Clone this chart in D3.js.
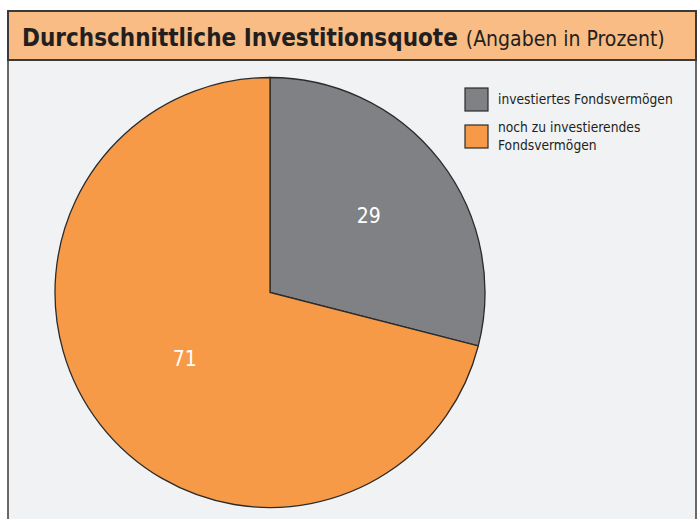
<!DOCTYPE html>
<html><head><meta charset="utf-8">
<script src="https://cdn.jsdelivr.net/npm/d3@7"></script>
<style>
html,body{margin:0;padding:0;background:#fff;}
svg{display:block;}
</style></head>
<body>
<script>
const categories = ["investiertes Fondsvermögen", "noch zu investierendes Fondsvermögen"];
const values = [29, 71];
const legendLines = [["investiertes Fondsvermögen"], ["noch zu investierendes", "Fondsvermögen"]];
const colors = ["#808184", "#F79A48"];
const titleMain = "Durchschnittliche Investitionsquote";
const titleSub = "(Angaben in Prozent)";

const W = 699, H = 519;
const svg = d3.select("body").append("svg").attr("width", W).attr("height", H);

// panel
svg.append("rect").attr("x", 8).attr("y", 59).attr("width", 688).attr("height", 480)
  .attr("fill", "#F1F2F4").attr("stroke", "#3a3a3a").attr("stroke-width", 1.5);
// header
svg.append("rect").attr("x", 8).attr("y", 11).attr("width", 688).attr("height", 49)
  .attr("fill", "#F9BC84").attr("stroke", "#3a3a3a").attr("stroke-width", 2);

const ff = "'DejaVu Sans Condensed', 'Liberation Sans Narrow', sans-serif";
const tt = svg.append("text").attr("x", 22).attr("y", 46)
  .attr("font-family", ff).attr("fill", "#231f20");
tt.append("tspan").attr("font-weight", "bold").attr("font-size", 24).text(titleMain);
tt.append("tspan").attr("dx", 8).attr("font-size", 21).text(titleSub);

// pie
const cx = 270, cy = 292.5, R = 215;
const labelRadii = [125, 108];
const pie = d3.pie().sort(null).value(d => d)(values);
const arc = d3.arc().innerRadius(0).outerRadius(R);
const g = svg.append("g").attr("transform", `translate(${cx},${cy})`);
g.selectAll("path").data(pie).join("path")
  .attr("d", arc)
  .attr("fill", (d, i) => colors[i])
  .attr("stroke", "#2b2b2b").attr("stroke-width", 1.3);
g.selectAll("text").data(pie).join("text")
  .attr("transform", (d, i) => {
    const la = d3.arc().innerRadius(labelRadii[i]).outerRadius(labelRadii[i]);
    return `translate(${la.centroid(d)})`;
  })
  .attr("text-anchor", "middle").attr("dy", "0.35em")
  .attr("font-family", "'DejaVu Sans Condensed', sans-serif")
  .attr("font-size", 21).attr("fill", "#fff")
  .text(d => d.data);

// legend
const lg = svg.append("g").attr("transform", "translate(465,88)");
legendLines.forEach((lines, i) => {
  const y0 = i * 37;
  lg.append("rect").attr("x", 0).attr("y", y0).attr("width", 23).attr("height", 23)
    .attr("fill", colors[i]).attr("stroke", "#2b2b2b").attr("stroke-width", 1.2);
  const tx = lg.append("text").attr("x", 33).attr("y", y0 + (lines.length === 1 ? 16 : 7))
    .attr("font-family", "'DejaVu Sans Condensed', sans-serif")
    .attr("font-size", 13.7).attr("fill", "#231f20");
  lines.forEach((l, j) => tx.append("tspan").attr("x", 33).attr("dy", j === 0 ? 0 : 18).text(l));
});
</script>
</body></html>
